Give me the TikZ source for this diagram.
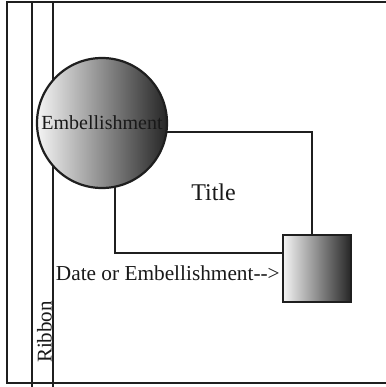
\documentclass[tikz,border=0pt]{standalone}
\usepackage{fontspec}
\setmainfont{Liberation Serif}
\begin{document}
\begin{tikzpicture}[x=1pt,y=-1pt,
  ln/.style={line width=2.2pt,draw=black!88},
  shade/.style={left color=black!4,right color=black!85,shading angle=90},
  lbl/.style={font=\fontsize{20}{22}\selectfont,text=black!90,inner sep=0pt}]
\useasboundingbox (0,0) rectangle (385,387);
% frame
\draw[ln] (390,2) -- (7,2) -- (7,383) -- (390,383);
% ribbon
\draw[ln] (32,2) -- (32,390);
\draw[ln] (53,2) -- (53,390);
\node[lbl,font=\fontsize{21}{22}\selectfont,rotate=90] (ribbon) at (44.5,332) {Ribbon};
% title box
\node[ln,draw,rectangle,minimum width=197pt,minimum height=121pt,inner sep=0pt,
  font=\fontsize{24}{26}\selectfont,text=black!90] (title) at (213.5,192.5) {Title};
% circle
\node[ln,draw,circle,shade,minimum size=130pt,inner sep=0pt] (emb) at (102,123) {};
\node[lbl] (embt) at (emb.center) {Embellishment};
% square
\node[ln,draw,rectangle,shade,minimum width=68pt,minimum height=67pt,inner sep=0pt] (sq) at (317,268.5) {};
\node[lbl,font=\fontsize{21.3}{22}\selectfont,anchor=east] (date) at ([xshift=-2pt,yshift=-5pt]sq.west) {Date or Embellishment-{}-{}>};
\end{tikzpicture}
\end{document}
